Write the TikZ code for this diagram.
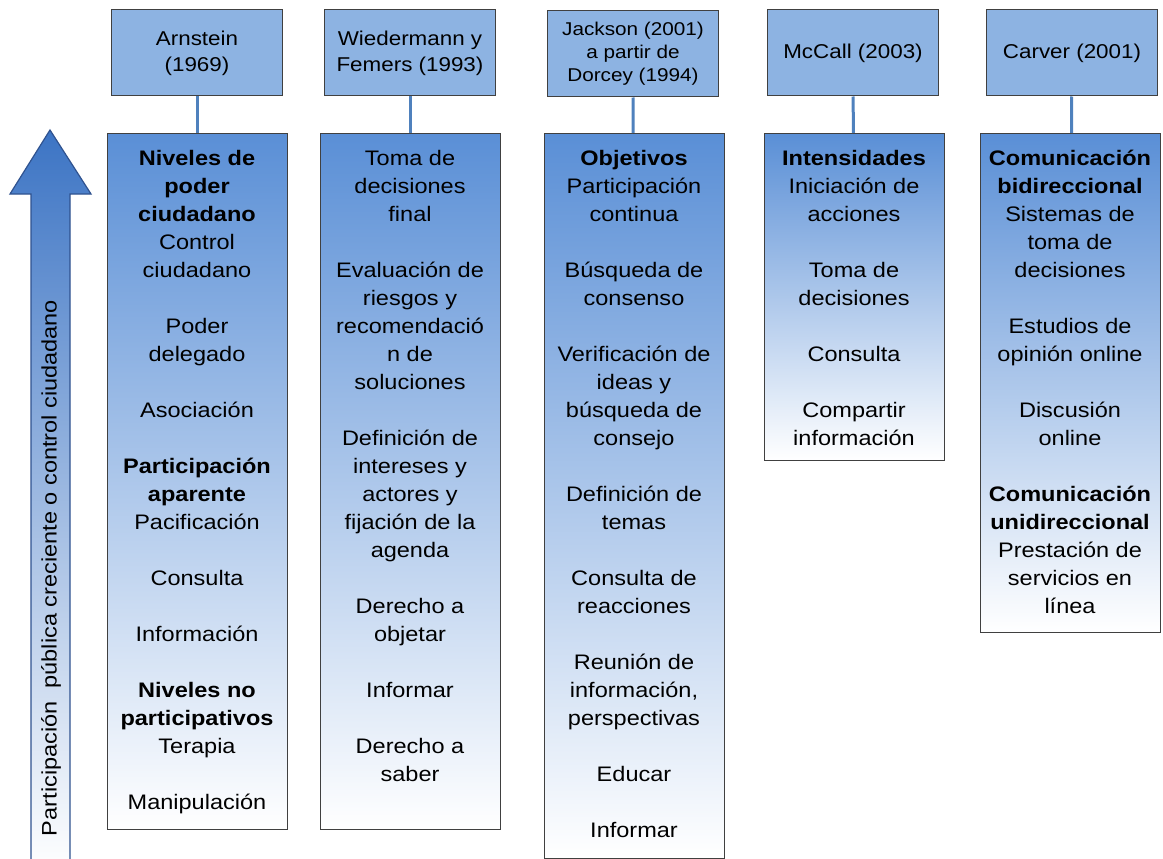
\documentclass[tikz,border=0pt]{standalone}
\usepackage{fontspec}
\setmainfont{Liberation Sans}[FakeStretch=1.12]
\usetikzlibrary{calc}

\definecolor{headblue}{HTML}{8DB3E2}
\definecolor{bodyblue}{HTML}{5A8FD6}
\definecolor{linkblue}{HTML}{4F81BD}
\definecolor{arrowblue}{HTML}{3C74C4}
\definecolor{arrowedge}{HTML}{2F528F}
\definecolor{edgegray}{HTML}{404040}

\tikzset{
  head/.style={draw=edgegray,fill=headblue,line width=1pt,minimum width=171pt,minimum height=86pt,
    align=center,font=\fontsize{20}{26}\selectfont},
  body/.style={draw=edgegray,line width=1pt,top color=bodyblue,bottom color=white,minimum width=180pt,anchor=north},
  list/.style={anchor=north,align=center,inner sep=0pt,font=\fontsize{21}{28}\selectfont},
  link/.style={linkblue,line width=3pt}
}
\newcommand{\gap}{\\[28pt]}

\begin{document}
\begin{tikzpicture}[x=1pt,y=-1pt]
  \useasboundingbox (0,0) rectangle (1163,859);

  % flecha
  \shade[top color=arrowblue,bottom color=white,draw=arrowedge,line width=1.2pt]
    (50,130) -- (91,194) -- (70,194) -- (70,870) -- (31,870) -- (31,194) -- (10,194) -- cycle;
  \node[rotate=90,font=\fontsize{21}{24}\selectfont] (eje) at (51,568)
    {Participación\ \ pública creciente o control ciudadano};

  % autores
  \node[head] (h1) at (197,53) {Arnstein\\(1969)};
  \node[head] (h2) at (410,53) {Wiedermann y\\Femers (1993)};
  \node[head,font=\fontsize{18.5}{23}\selectfont] (h3) at (633,54) {Jackson (2001)\\a partir de\\Dorcey (1994)};
  \node[head] (h4) at (853,53) {McCall (2003)};
  \node[head] (h5) at (1072,53) {Carver (2001)};

  % columnas
  \node[body,minimum height=696pt] (b1) at (197,133) {};
  \node[body,minimum height=696pt] (b2) at (410,133) {};
  \node[body,minimum height=725pt] (b3) at (634,133) {};
  \node[body,minimum height=327pt] (b4) at (854,133) {};
  \node[body,minimum height=499pt] (b5) at (1070,133) {};

  \foreach \i in {1,...,5}
    \draw[link] (h\i) -- (b\i);

  \node[list] (t1) at ($(b1.north)+(0,17)$) {\textbf{Niveles de}\\\textbf{poder}\\\textbf{ciudadano}\\Control\\ciudadano\gap
    Poder\\delegado\gap Asociación\gap \textbf{Participación}\\\textbf{aparente}\\Pacificación\gap
    Consulta\gap Información\gap \textbf{Niveles no}\\\textbf{participativos}\\Terapia\gap Manipulación};
  \node[list] (t2) at ($(b2.north)+(0,17)$) {Toma de\\decisiones\\final\gap Evaluación de\\riesgos y\\recomendació\\n de\\soluciones\gap
    Definición de\\intereses y\\actores y\\fijación de la\\agenda\gap Derecho a\\objetar\gap Informar\gap Derecho a\\saber};
  \node[list] (t3) at ($(b3.north)+(0,17)$) {\textbf{Objetivos}\\Participación\\continua\gap Búsqueda de\\consenso\gap
    Verificación de\\ideas y\\búsqueda de\\consejo\gap Definición de\\temas\gap Consulta de\\reacciones\gap
    Reunión de\\información,\\perspectivas\gap Educar\gap Informar};
  \node[list] (t4) at ($(b4.north)+(0,17)$) {\textbf{Intensidades}\\Iniciación de\\acciones\gap Toma de\\decisiones\gap
    Consulta\gap Compartir\\información};
  \node[list] (t5) at ($(b5.north)+(0,17)$) {\textbf{Comunicación}\\\textbf{bidireccional}\\Sistemas de\\toma de\\decisiones\gap
    Estudios de\\opinión online\gap Discusión\\online\gap \textbf{Comunicación}\\\textbf{unidireccional}\\Prestación de\\servicios en\\línea};
\end{tikzpicture}
\end{document}
